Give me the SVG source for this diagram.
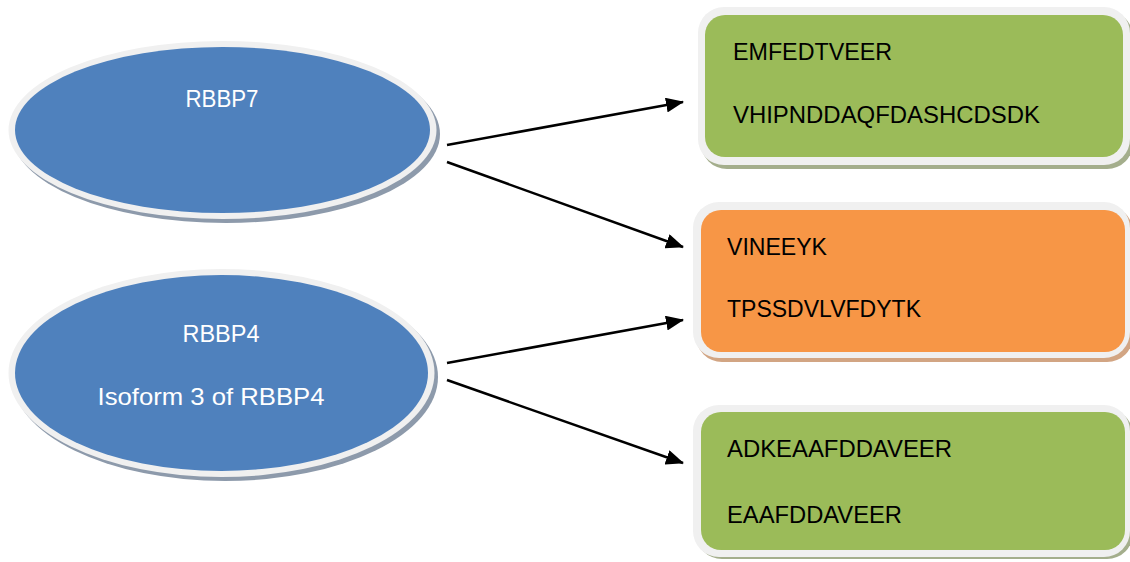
<svg xmlns="http://www.w3.org/2000/svg" width="1130" height="562" viewBox="0 0 1130 562">
<style>
.shadowB{fill:#8d9aab}
.shadowG{fill:#a4ae8c}
.shadowO{fill:#d2a583}
.rim{fill:#f0f0f0}
.blue{fill:#4f81bd}
.green{fill:#9bbb59}
.orange{fill:#f79646}
.wt{font-family:"Liberation Sans",Arial,sans-serif;font-size:24px;fill:#ffffff;text-anchor:middle}
.bt{font-family:"Liberation Sans",Arial,sans-serif;font-size:24px;fill:#000000}
.conn{stroke:#000;stroke-width:2.5;fill:none}
</style>
<defs>
<marker id="ah" markerUnits="userSpaceOnUse" markerWidth="19" markerHeight="15" refX="17" refY="7.5" orient="auto">
<path d="M0,0 L18,7.5 L0,15 Z" fill="#000"/>
</marker>
</defs>
<rect width="1130" height="562" fill="#ffffff"/>
<g id="node-rbbp7">
<ellipse class="shadowB" cx="226" cy="134" rx="214" ry="89"/>
<ellipse class="rim" cx="222.5" cy="130" rx="214" ry="89"/>
<ellipse class="blue" cx="222.5" cy="130" rx="207.5" ry="83"/>
<text class="wt" x="222" y="107" textLength="73" lengthAdjust="spacingAndGlyphs">RBBP7</text>
</g>
<g id="node-rbbp4">
<ellipse class="shadowB" cx="225" cy="377" rx="213" ry="104"/>
<ellipse class="rim" cx="221.5" cy="373" rx="213" ry="104"/>
<ellipse class="blue" cx="221.5" cy="373" rx="206.5" ry="98"/>
<text class="wt" x="221" y="342" textLength="77" lengthAdjust="spacingAndGlyphs">RBBP4</text>
<text class="wt" x="211" y="405" textLength="227" lengthAdjust="spacingAndGlyphs">Isoform 3 of RBBP4</text>
</g>
<g id="node-box1">
<rect class="shadowG" x="701" y="11" width="432" height="158" rx="26"/>
<rect class="rim" x="698" y="7" width="432" height="158" rx="26"/>
<rect class="green" x="705" y="15" width="418" height="142" rx="20"/>
<text class="bt" x="733" y="60" textLength="159" lengthAdjust="spacingAndGlyphs">EMFEDTVEER</text>
<text class="bt" x="733" y="123" textLength="307" lengthAdjust="spacingAndGlyphs">VHIPNDDAQFDASHCDSDK</text>
</g>
<g id="node-box2">
<rect class="shadowO" x="696" y="206" width="437" height="156" rx="26"/>
<rect class="rim" x="693" y="202" width="437" height="156" rx="26"/>
<rect class="orange" x="701" y="210" width="424" height="142" rx="20"/>
<text class="bt" x="727" y="255" textLength="100" lengthAdjust="spacingAndGlyphs">VINEEYK</text>
<text class="bt" x="727" y="317" textLength="194" lengthAdjust="spacingAndGlyphs">TPSSDVLVFDYTK</text>
</g>
<g id="node-box3">
<rect class="shadowG" x="696" y="409" width="437" height="150" rx="26"/>
<rect class="rim" x="693" y="405" width="437" height="152" rx="26"/>
<rect class="green" x="701" y="412" width="424" height="138" rx="20"/>
<text class="bt" x="727" y="457" textLength="225" lengthAdjust="spacingAndGlyphs">ADKEAAFDDAVEER</text>
<text class="bt" x="727" y="523" textLength="175" lengthAdjust="spacingAndGlyphs">EAAFDDAVEER</text>
</g>
<g id="connectors">
<line class="conn" x1="447" y1="145" x2="683" y2="102" marker-end="url(#ah)"/>
<line class="conn" x1="447" y1="162" x2="683" y2="247" marker-end="url(#ah)"/>
<line class="conn" x1="447" y1="363" x2="683" y2="320" marker-end="url(#ah)"/>
<line class="conn" x1="447" y1="380" x2="683" y2="463" marker-end="url(#ah)"/>
</g>
</svg>
